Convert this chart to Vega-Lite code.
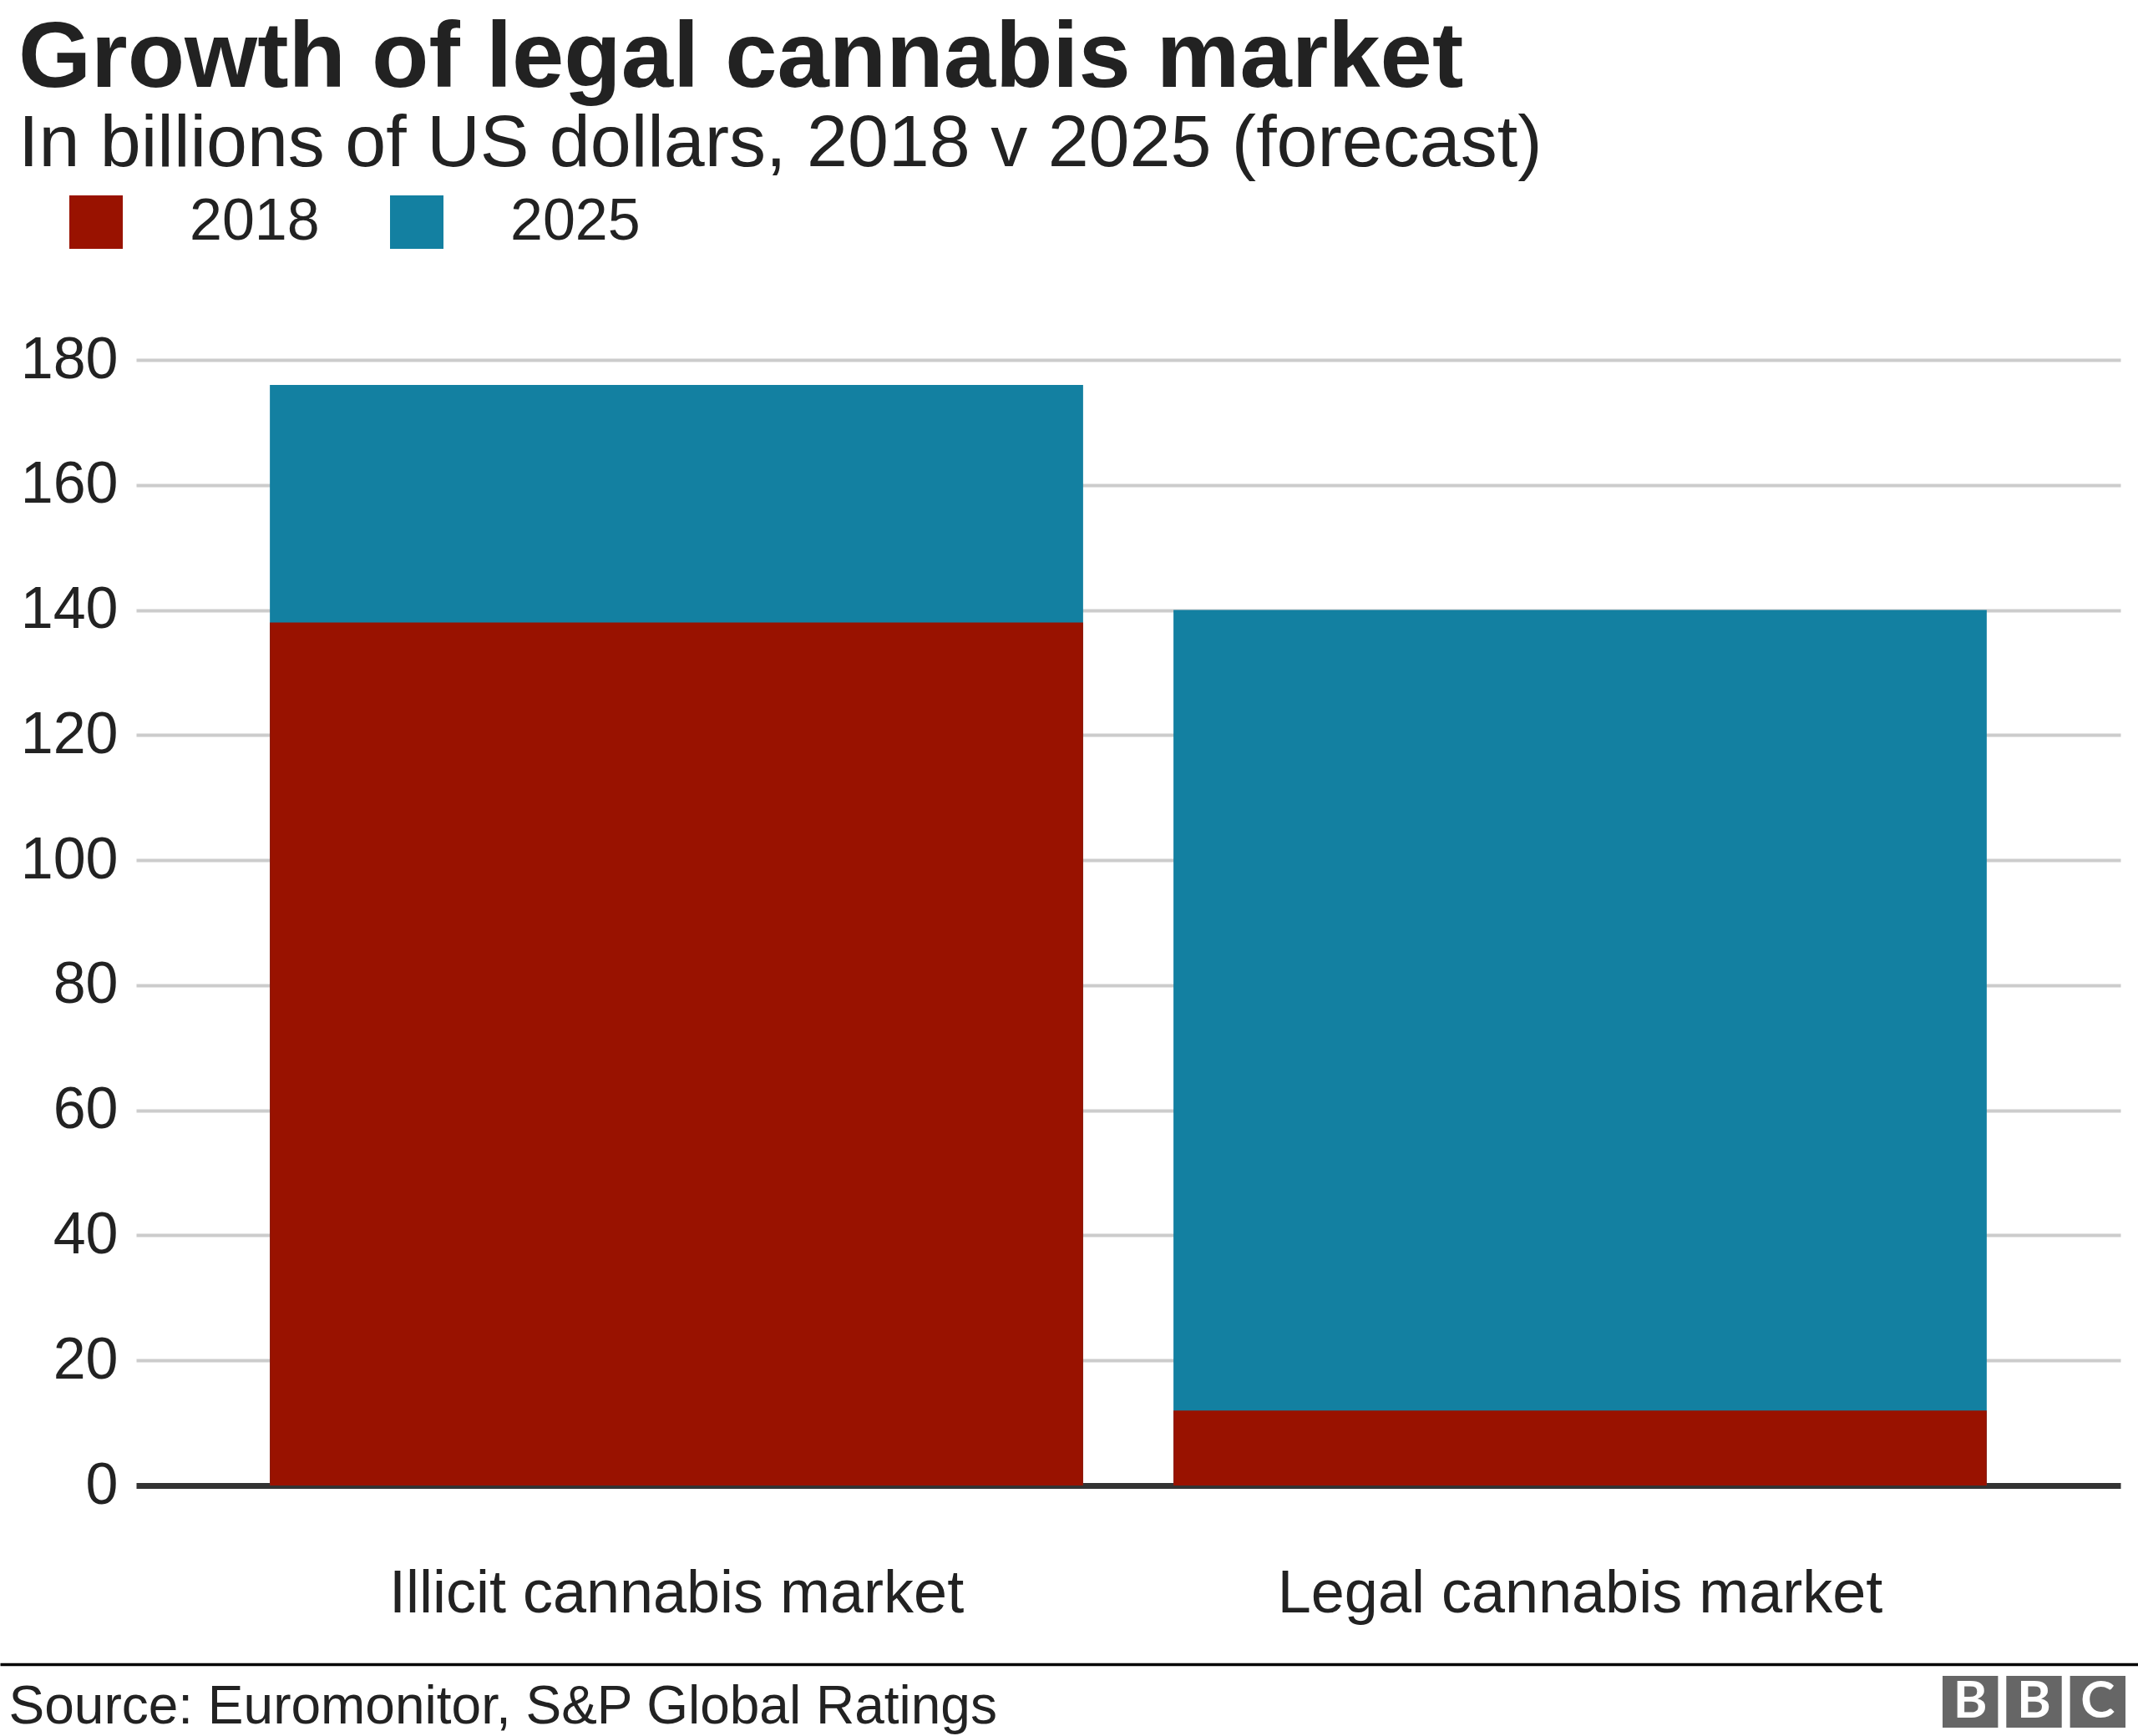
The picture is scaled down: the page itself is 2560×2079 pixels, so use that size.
{
  "$schema": "https://vega.github.io/schema/vega-lite/v6.json",
  "width": 2376,
  "height": 1348,
  "autosize": {"type": "none"},
  "padding": {"left": 163, "top": 431, "right": 21, "bottom": 300},
  "background": "white",
  "config": {"font": "Liberation Sans", "view": {"stroke": null}},
  "title": {
    "text": "Growth of legal cannabis market",
    "subtitle": "In billions of US dollars, 2018 v 2025 (forecast)",
    "anchor": "start",
    "frame": "group",
    "font": "Liberation Sans",
    "fontSize": 112,
    "fontWeight": "bold",
    "color": "#222222",
    "subtitleFont": "Liberation Sans",
    "subtitleFontSize": 88,
    "subtitleColor": "#222222",
    "subtitlePadding": 1,
    "offset": 12,
    "dx": -141
  },
  "layer": [
    {
      "data": {
        "values": [
          {"market": "Illicit cannabis market", "year": "2025", "value": 176},
          {"market": "Legal cannabis market", "year": "2025", "value": 140},
          {"market": "Illicit cannabis market", "year": "2018", "value": 138},
          {"market": "Legal cannabis market", "year": "2018", "value": 12}
        ]
      },
      "mark": {"type": "bar"},
      "encoding": {
        "x": {
          "field": "market",
          "type": "nominal",
          "sort": ["Illicit cannabis market", "Legal cannabis market"],
          "scale": {"paddingInner": 0.1, "paddingOuter": 0.148},
          "axis": {
            "title": "Source: Euromonitor, S&P Global Ratings",
            "titleX": -153,
            "titleY": 284,
            "titleAlign": "left",
            "titleAnchor": "start",
            "titleBaseline": "alphabetic",
            "titleFontSize": 64,
            "titleFontWeight": "normal",
            "titleColor": "#222222",
            "labelFontSize": 72,
            "labelColor": "#222222",
            "labelPadding": 94,
            "labelAngle": 0,
            "labelLimit": 2000,
            "ticks": false,
            "tickSize": 0,
            "domain": false,
            "grid": false
          }
        },
        "y": {
          "field": "value",
          "type": "quantitative",
          "stack": null,
          "scale": {"domain": [0, 180], "nice": false},
          "axis": {
            "title": null,
            "values": [0, 20, 40, 60, 80, 100, 120, 140, 160, 180],
            "labelFontSize": 70,
            "labelColor": "#222222",
            "labelPadding": 22,
            "ticks": false,
            "tickSize": 0,
            "domain": false,
            "grid": true,
            "gridColor": {"condition": {"test": "datum.value === 0", "value": "#333333"}, "value": "#cccccc"},
            "gridWidth": {"condition": {"test": "datum.value === 0", "value": 7}, "value": 4},
            "gridOpacity": 1
          }
        },
        "color": {
          "field": "year",
          "type": "nominal",
          "scale": {"domain": ["2018", "2025"], "range": ["#991200", "#1380a1"]},
          "legend": {
            "title": null,
            "orient": "none",
            "legendX": -83,
            "legendY": -200,
            "direction": "horizontal",
            "symbolType": "square",
            "symbolSize": 4096,
            "symbolStrokeWidth": 0,
            "symbolOpacity": 1,
            "labelFontSize": 70,
            "labelColor": "#222222",
            "labelOffset": 77,
            "labelLimit": 500,
            "columnPadding": 81,
            "padding": 0
          }
        }
      }
    },
    {
      "data": {"values": [{"edge": 0}, {"edge": 1}]},
      "mark": {"type": "rule", "opacity": 0},
      "encoding": {
        "x": {
          "field": "edge",
          "type": "quantitative",
          "scale": {"domain": [0, 1], "range": [-163, 2397]},
          "axis": {
            "orient": "bottom",
            "offset": 214,
            "domain": true,
            "domainColor": "#000000",
            "domainWidth": 3.5,
            "labels": false,
            "ticks": false,
            "grid": false,
            "title": null
          }
        }
      }
    },
    {
      "data": {
        "values": [
          {"letter": "B", "slot": "1", "row": "logo"},
          {"letter": "B", "slot": "2", "row": "logo"},
          {"letter": "C", "slot": "3", "row": "logo"}
        ]
      },
      "encoding": {
        "x": {
          "field": "slot",
          "type": "nominal",
          "scale": {"type": "band", "range": [2163, 2382], "paddingInner": 0.13, "paddingOuter": 0},
          "axis": null
        },
        "y": {
          "field": "row",
          "type": "nominal",
          "scale": {"type": "band", "range": [1576, 1638], "paddingInner": 0, "paddingOuter": 0},
          "axis": null
        }
      },
      "layer": [
        {"mark": {"type": "rect", "color": "#666666"}},
        {
          "mark": {"type": "text", "color": "#ffffff", "font": "Lato", "fontSize": 62, "fontWeight": "bold", "align": "center", "baseline": "middle"},
          "encoding": {"text": {"field": "letter"}}
        }
      ]
    }
  ],
  "resolve": {
    "scale": {"x": "independent", "y": "independent", "color": "independent"},
    "axis": {"x": "independent", "y": "independent"}
  }
}
